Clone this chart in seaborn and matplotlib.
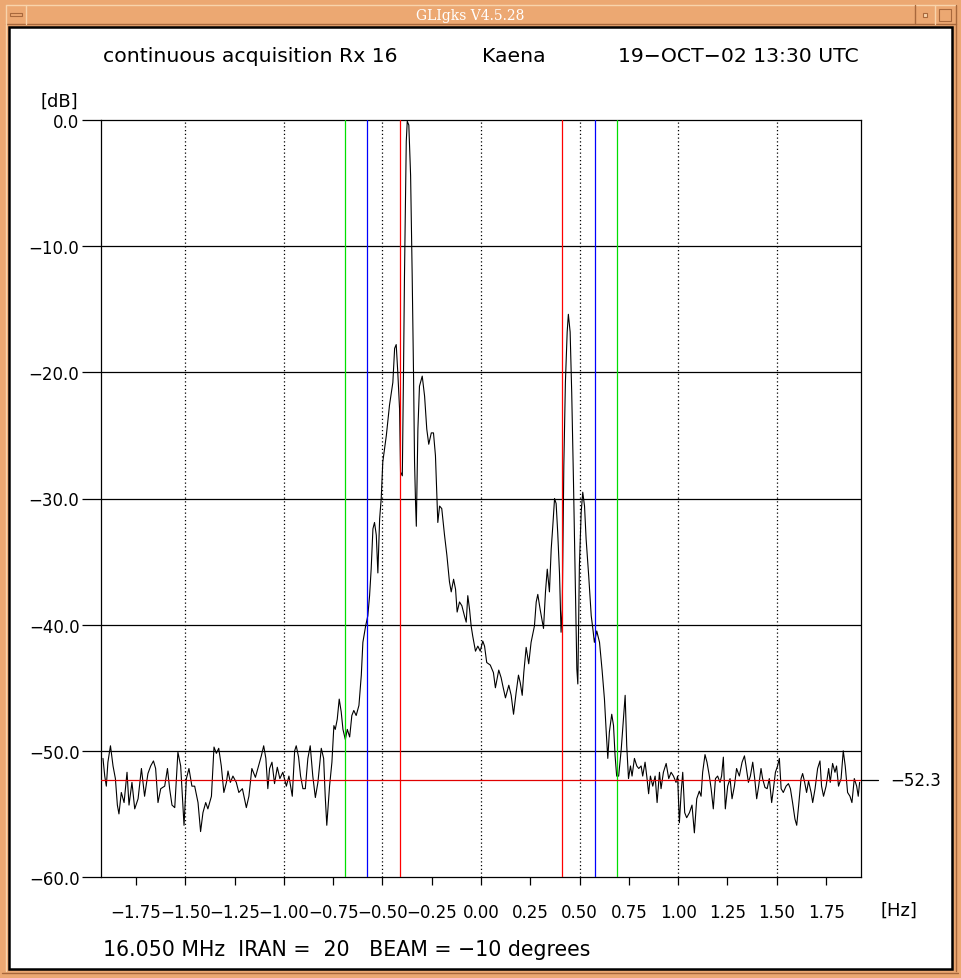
import numpy as np
import pandas as pd
import matplotlib
matplotlib.use("Agg")
import matplotlib.pyplot as plt
from matplotlib.patches import Rectangle
from matplotlib.lines import Line2D
import seaborn as sns

W, H = 961, 979

# spectrum (frequency in Hz, power in dB)
freq_hz = [
    -1.917, -1.908, -1.900, -1.892, -1.879, -1.866, -1.854, -1.844, -1.836, -1.824,
    -1.810, -1.795, -1.785, -1.770, -1.756, -1.739, -1.722, -1.706, -1.689, -1.675,
    -1.661, -1.650, -1.638, -1.624, -1.604, -1.590, -1.579, -1.567, -1.553, -1.537,
    -1.523, -1.506, -1.494, -1.481, -1.466, -1.452, -1.435, -1.422, -1.410, -1.396,
    -1.385, -1.367, -1.354, -1.342, -1.330, -1.317, -1.304, -1.291, -1.283, -1.271,
    -1.258, -1.241, -1.228, -1.210, -1.190, -1.177, -1.162, -1.144, -1.128, -1.114,
    -1.102, -1.091, -1.081, -1.072, -1.060, -1.047, -1.033, -1.020, -1.005, -0.987,
    -0.974, -0.957, -0.945, -0.937, -0.925, -0.915, -0.903, -0.891, -0.878, -0.866,
    -0.853, -0.840, -0.827, -0.810, -0.798, -0.790, -0.782, -0.768, -0.756, -0.746,
    -0.739, -0.729, -0.719, -0.709, -0.700, -0.688, -0.678, -0.666, -0.655, -0.645,
    -0.633, -0.619, -0.607, -0.599, -0.585, -0.574, -0.565, -0.557, -0.548, -0.540,
    -0.531, -0.523, -0.514, -0.506, -0.498, -0.480, -0.464, -0.447, -0.438, -0.430,
    -0.422, -0.413, -0.408, -0.399, -0.393, -0.388, -0.379, -0.374, -0.366, -0.357,
    -0.349, -0.342, -0.337, -0.332, -0.328, -0.320, -0.312, -0.298, -0.286, -0.275,
    -0.265, -0.252, -0.241, -0.231, -0.219, -0.210, -0.199, -0.185, -0.173, -0.160,
    -0.151, -0.139, -0.129, -0.121, -0.109, -0.097, -0.084, -0.075, -0.067, -0.058,
    -0.050, -0.042, -0.028, -0.016, -0.004, 0.009, 0.018, 0.029, 0.047, 0.063,
    0.073, 0.090, 0.102, 0.110, 0.124, 0.141, 0.153, 0.165, 0.178, 0.190,
    0.199, 0.209, 0.217, 0.229, 0.242, 0.254, 0.271, 0.280, 0.288, 0.300,
    0.317, 0.327, 0.336, 0.347, 0.356, 0.364, 0.373, 0.381, 0.389, 0.398,
    0.406, 0.412, 0.420, 0.428, 0.437, 0.443, 0.452, 0.460, 0.469, 0.479,
    0.486, 0.491, 0.499, 0.508, 0.516, 0.525, 0.533, 0.546, 0.559, 0.567,
    0.575, 0.587, 0.601, 0.614, 0.626, 0.635, 0.643, 0.651, 0.663, 0.672,
    0.680, 0.688, 0.698, 0.711, 0.722, 0.731, 0.739, 0.748, 0.758, 0.766,
    0.778, 0.790, 0.800, 0.812, 0.820, 0.832, 0.842, 0.850, 0.859, 0.871,
    0.883, 0.893, 0.905, 0.913, 0.925, 0.939, 0.952, 0.964, 0.976, 0.989,
    0.997, 1.006, 1.015, 1.023, 1.033, 1.043, 1.057, 1.070, 1.082, 1.094,
    1.107, 1.116, 1.124, 1.136, 1.146, 1.158, 1.167, 1.178, 1.189, 1.200,
    1.212, 1.220, 1.229, 1.239, 1.251, 1.263, 1.273, 1.285, 1.296, 1.310,
    1.324, 1.336, 1.344, 1.356, 1.366, 1.378, 1.388, 1.398, 1.408, 1.420,
    1.428, 1.440, 1.451, 1.462, 1.474, 1.483, 1.493, 1.504, 1.513, 1.522,
    1.533, 1.547, 1.559, 1.569, 1.580, 1.592, 1.601, 1.611, 1.623, 1.631,
    1.640, 1.651, 1.661, 1.674, 1.682, 1.694, 1.707, 1.719, 1.727, 1.737,
    1.750, 1.763, 1.771, 1.783, 1.795, 1.803, 1.813, 1.826, 1.837, 1.847,
    1.859, 1.871, 1.881, 1.893, 1.905, 1.913, 1.920,
]
power_db = [
    -50.6, -52.0, -52.8, -50.9, -49.6, -51.2, -52.2, -54.3, -55.0, -53.3,
    -54.1, -51.7, -54.3, -52.5, -54.6, -53.8, -51.4, -53.6, -51.8, -51.2,
    -50.8, -51.4, -54.1, -53.0, -52.8, -51.4, -53.0, -54.3, -54.5, -50.1,
    -51.2, -55.9, -52.2, -51.4, -52.8, -52.8, -54.1, -56.4, -54.9, -54.1,
    -54.6, -53.6, -49.7, -50.2, -49.8, -51.2, -53.3, -52.5, -51.6, -52.5,
    -52.0, -52.5, -53.3, -53.0, -54.5, -53.6, -51.4, -52.1, -51.2, -50.4,
    -49.6, -50.6, -53.0, -51.4, -50.9, -52.6, -51.3, -52.2, -51.7, -52.8,
    -52.0, -53.6, -50.0, -49.6, -50.5, -52.0, -53.0, -53.0, -50.6, -49.6,
    -52.0, -53.7, -52.5, -49.8, -50.6, -53.6, -55.9, -52.8, -50.9, -48.0,
    -48.3, -47.5, -45.9, -46.9, -48.3, -49.1, -48.3, -48.9, -47.2, -46.8,
    -47.2, -46.4, -44.0, -41.4, -40.1, -39.3, -37.7, -35.6, -32.4, -31.9,
    -32.9, -35.9, -31.6, -30.0, -27.1, -25.0, -22.6, -20.8, -18.1, -17.8,
    -20.0, -22.9, -27.9, -28.2, -20.0, -12.3, -1.7, -0.1, -0.4, -4.4,
    -12.3, -20.3, -27.1, -30.3, -32.2, -24.5, -21.1, -20.3, -21.9, -24.5,
    -25.7, -24.8, -24.8, -26.6, -31.9, -30.6, -30.8, -32.9, -34.5, -36.6,
    -37.4, -36.4, -37.2, -39.0, -38.2, -38.5, -39.3, -39.8, -37.7, -38.8,
    -40.1, -40.9, -42.1, -41.7, -42.1, -41.3, -41.7, -43.0, -43.2, -43.8,
    -45.0, -43.6, -44.2, -44.8, -45.8, -44.8, -45.6, -47.1, -45.4, -44.0,
    -44.6, -45.6, -43.8, -41.8, -43.1, -41.4, -40.1, -38.2, -37.6, -38.8,
    -40.3, -37.4, -35.6, -37.4, -34.0, -32.2, -30.0, -30.4, -32.7, -35.9,
    -40.6, -38.8, -27.4, -20.8, -16.8, -15.4, -16.8, -21.6, -28.7, -37.4,
    -43.5, -44.7, -35.3, -31.1, -29.5, -30.6, -33.2, -36.1, -39.3, -40.3,
    -41.4, -40.5, -41.4, -43.6, -45.9, -48.5, -50.6, -48.5, -47.1, -48.0,
    -50.4, -52.0, -52.0, -49.9, -47.5, -45.6, -49.6, -52.2, -51.2, -52.0,
    -50.6, -51.2, -51.4, -51.2, -52.0, -50.9, -52.2, -53.4, -52.0, -52.8,
    -52.0, -54.1, -51.7, -53.0, -51.7, -51.0, -52.2, -51.7, -52.0, -52.5,
    -52.0, -55.7, -53.3, -51.7, -54.9, -55.3, -54.9, -54.3, -56.5, -53.8,
    -53.2, -53.6, -51.7, -50.3, -50.9, -52.0, -53.0, -54.6, -52.2, -52.0,
    -52.5, -52.0, -50.5, -54.6, -52.8, -52.2, -53.8, -52.8, -51.4, -52.0,
    -50.9, -50.4, -51.2, -52.5, -52.0, -50.9, -52.2, -53.8, -52.8, -51.4,
    -52.2, -52.9, -53.0, -52.2, -54.1, -53.0, -51.7, -51.2, -50.6, -53.0,
    -53.3, -52.8, -52.6, -53.0, -54.1, -55.4, -55.9, -54.3, -52.2, -51.8,
    -52.4, -53.3, -52.4, -53.3, -54.1, -53.0, -51.4, -50.8, -52.8, -53.6,
    -52.8, -51.4, -52.5, -51.0, -51.7, -51.2, -52.8, -52.2, -50.0, -51.2,
    -53.3, -53.6, -54.1, -52.2, -52.8, -53.6, -52.5,
]

noise_level = -52.3
red_marks = [-0.41, 0.41]
blue_marks = [-0.578, 0.578]
green_marks = [-0.689, 0.689]

x_label_ticks = [-1.75, -1.50, -1.25, -1.00, -0.75, -0.50, -0.25, 0.00,
                 0.25, 0.50, 0.75, 1.00, 1.25, 1.50, 1.75]
x_major_ticks = [-1.5, -1.0, -0.5, 0.0, 0.5, 1.0, 1.5]
y_ticks = [-60, -50, -40, -30, -20, -10, 0]
y_grid = [-50, -40, -30, -20, -10]
x_lim = (-1.927, 1.927)
y_lim = (-60, 0)

title_left = "continuous acquisition Rx 16"
title_mid = "Kaena"
title_right = "19\u2212OCT\u221202 13:30 UTC"
footer = "16.050 MHz  IRAN =  20   BEAM = \u221210 degrees"
window_title = "GLIgks V4.5.28"

df = pd.DataFrame({"freq": freq_hz, "db": power_db})

sns.set_style("white")
plt.rcParams['font.family'] = ['DejaVu Sans']
plt.rcParams['text.color'] = 'black'

ORANGE = '#eca872'
DARK = '#a8683c'
LIGHT = '#f8d4ac'


def fx(x):
    return x / W


def fy(y):
    return 1 - y / H


def minus(s):
    return s.replace('-', '\u2212')


fig = plt.figure(figsize=(W / 100, H / 100), dpi=100)
fig.patch.set_facecolor(ORANGE)

# window decoration
fig.patches.append(Rectangle((fx(9), fy(970)), (952 - 9) / W, (970 - 28) / H,
                             transform=fig.transFigure, facecolor='white',
                             edgecolor='black', lw=1.8, zorder=-5))
for (x0, y0, x1, y1, c) in [(6, 6, 956, 6, LIGHT), (6, 25, 956, 25, DARK),
                            (6, 6, 6, 972, LIGHT), (956, 6, 956, 972, DARK),
                            (26, 6, 26, 25, LIGHT), (915, 6, 915, 25, DARK),
                            (935, 6, 935, 25, LIGHT), (2, 974, 958, 974, DARK)]:
    fig.lines.append(Line2D([fx(x0), fx(x1)], [fy(y0), fy(y1)],
                            transform=fig.transFigure, color=c, lw=1, zorder=-4))
fig.patches.append(Rectangle((fx(10), fy(17)), 12 / W, 3 / H, transform=fig.transFigure,
                             facecolor=ORANGE, edgecolor=DARK, lw=0.8, zorder=-4))
fig.patches.append(Rectangle((fx(923), fy(18)), 4 / W, 4 / H, transform=fig.transFigure,
                             facecolor=LIGHT, edgecolor=DARK, lw=0.8, zorder=-4))
fig.patches.append(Rectangle((fx(939), fy(22)), 12 / W, 12 / H, transform=fig.transFigure,
                             facecolor=ORANGE, edgecolor=DARK, lw=0.8, zorder=-4))
fig.text(fx(470), fy(16), window_title, color='white', family='DejaVu Serif',
         fontsize=10, ha='center', va='center')

ax = fig.add_axes([fx(101), fy(878), (861 - 101) / W, (878 - 121) / H])
ax.set_facecolor('white')

for y in y_grid:
    ax.axhline(y, color='black', lw=0.9, zorder=1)
for x in x_major_ticks:
    ax.axvline(x, color='black', lw=0.9, ls=(0, (1, 2)), zorder=1)

sns.lineplot(data=df, x="freq", y="db", color='black', lw=0.8, sort=False,
             estimator=None, ax=ax, zorder=2)

for x in green_marks:
    ax.axvline(x, color='#00e000', lw=0.9, zorder=3)
for x in blue_marks:
    ax.axvline(x, color='#0000ff', lw=0.9, zorder=3)
for x in red_marks:
    ax.axvline(x, color='#ff0000', lw=0.9, zorder=3)
ax.axhline(noise_level, color='#e00000', lw=0.9, zorder=3)
ax.plot([1.0, 1.0224], [noise_level, noise_level], color='black', lw=0.9,
        transform=ax.get_yaxis_transform(), clip_on=False)
ax.text(1.038, noise_level, minus(f"{noise_level:.1f}"),
        transform=ax.get_yaxis_transform(), fontsize=12, va='center', ha='left')

ax.set_xlim(*x_lim)
ax.set_ylim(*y_lim)
ax.set_xticks(x_label_ticks)
ax.set_xticklabels([minus(f"{v:.2f}") for v in x_label_ticks])
ax.set_xticks(x_major_ticks, minor=True)
ax.set_yticks(y_ticks)
ax.set_yticklabels([minus(f"{v:.1f}") for v in y_ticks])
ax.tick_params(axis='x', which='major', direction='out', length=6, width=0.9,
               pad=12.5, labelsize=12, colors='black', bottom=True)
ax.tick_params(axis='x', which='minor', direction='out', length=13.5, width=0.9,
               bottom=True)
ax.tick_params(axis='y', direction='out', length=13.5, width=0.9, pad=2,
               labelsize=12, colors='black', left=True)
for s in ax.spines.values():
    s.set_color('black')
    s.set_linewidth(0.9)
    s.set_visible(True)
ax.set_xlabel('')
ax.set_ylabel('')

fig.text(fx(40), fy(102), "[dB]", fontsize=13, ha='left', va='center')
fig.text(fx(880), fy(911), "[Hz]", fontsize=13, ha='left', va='center')
fig.text(fx(103), fy(56), title_left, fontsize=14.7, ha='left', va='center')
fig.text(fx(482), fy(56), title_mid, fontsize=14.7, ha='left', va='center')
fig.text(fx(859), fy(56), title_right, fontsize=14.7, ha='right', va='center')
fig.text(fx(103), fy(950), footer, fontsize=14.8, ha='left', va='center')

fig.savefig("out.png", dpi=100, facecolor=fig.get_facecolor())
